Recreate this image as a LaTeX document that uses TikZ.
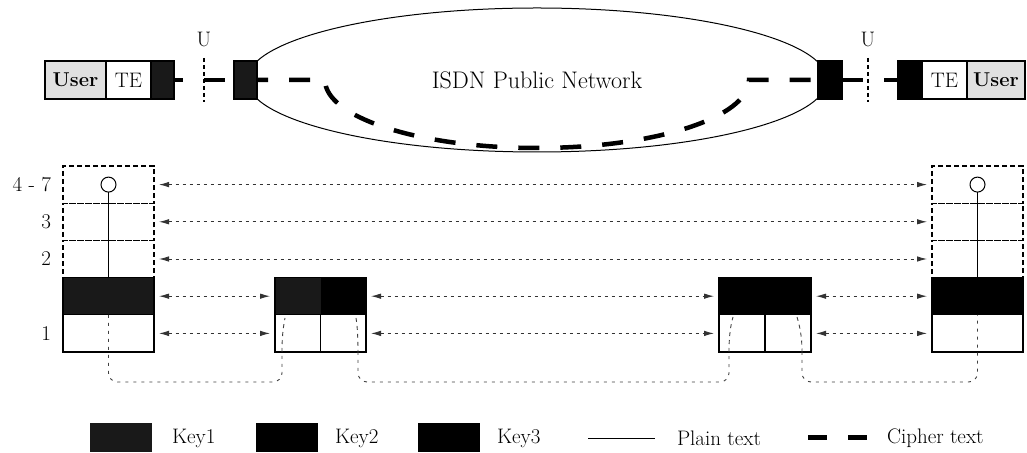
\documentclass[tikz,border=0pt]{standalone}
\usepackage{fontspec}
\usetikzlibrary{shapes.geometric,arrows.meta}
\begin{document}
\begin{tikzpicture}[x=1pt,y=1pt,
  every node/.style={inner sep=0pt, outer sep=0pt},
  txt/.style={font=\fontsize{21}{25}\selectfont},
  cell/.style={draw, line width=1.3pt, minimum height=37.2pt},
  topcell/.style={draw, line width=1.3pt, minimum height=38pt},
  dcell/.style={draw, line width=1.2pt, dash pattern=on 5pt off 3pt, minimum height=37.2pt},
  keyone/.style={fill=black!90},
  keytwo/.style={fill=black},
  keythree/.style={fill=black},
  userfill/.style={fill=black!12},
  arr/.style={{Latex[length=10pt,width=5.5pt]}-{Latex[length=10pt,width=5.5pt]}, dash pattern=on 3pt off 4pt, line width=0.9pt, draw=black!80, shorten <=5pt, shorten >=5pt},
  lowdash/.style={dash pattern=on 3pt off 5pt, line width=0.9pt, draw=black!75, rounded corners=9pt},
  celldash/.style={dash pattern=on 4pt off 4pt, line width=0.9pt, draw=black!75},
  cipher/.style={line width=4.5pt, dash pattern=on 21pt off 21pt},
  plain/.style={line width=0.9pt},
  uline/.style={line width=1.2pt, dash pattern=on 4pt off 3pt},
  ring/.style={circle, draw, line width=1pt, fill=white, minimum size=15pt}
]
\useasboundingbox (0,0) rectangle (1027,452);

% ---------- top row ----------
\node[draw, ellipse, line width=1pt, minimum width=580pt, minimum height=144pt,
      font=\fontsize{24}{28}\selectfont] (net) at (537,372) {ISDN Public Network};

\node[topcell, userfill, minimum width=61pt, font=\fontsize{20}{24}\selectfont\bfseries] (userL) at (75.5,372) {User};
\node[topcell, minimum width=45pt, txt] (teL) at (128.5,372) {TE};
\node[topcell, keyone, minimum width=23pt] (kL) at (162.5,372) {};
\node[topcell, keyone, minimum width=23pt] (nL) at (245.5,372) {};
\node[topcell, keythree, minimum width=24pt] (nR) at (830,372) {};
\node[topcell, keythree, minimum width=24pt] (kR) at (910,372) {};
\node[topcell, minimum width=45pt, txt] (teR) at (944.5,372) {TE};
\node[topcell, userfill, minimum width=58pt, font=\fontsize{20}{24}\selectfont\bfseries] (userR) at (996,372) {User};

\node[txt] (uL) at (204,412) {U};
\node[txt] (uR) at (868,412) {U};
\coordinate (uLt) at (204,394); \coordinate (uLb) at (204,350);
\coordinate (uRt) at (868,394); \coordinate (uRb) at (868,350);
\draw[uline] (uLt) -- (uLb);
\draw[uline] (uRt) -- (uRb);

\draw[cipher, dash phase=12pt] (kL.east) -- (nL.west);
\draw[cipher, dash phase=10pt] (nL.east) -- (325,372)
   arc[start angle=180, end angle=360, x radius=212, y radius=68] -- (nR.west);
\draw[cipher] (nR.east) -- (kR.west);

% ---------- layer stacks ----------
% left stack
\node[dcell, minimum width=91pt] (L47) at (108.5,267.4) {};
\node[dcell, minimum width=91pt] (L3)  at (108.5,230.2) {};
\node[dcell, minimum width=91pt] (L2)  at (108.5,193.0) {};
\node[cell, keyone, minimum width=91pt] (Lk) at (108.5,155.8) {};
\node[cell, minimum width=91pt] (L1) at (108.5,118.6) {};
\node[ring] (cL) at (108.5,267.4) {};
\draw[plain] (cL.south) -- (Lk.north);

% right stack
\node[dcell, minimum width=91pt] (R47) at (977.5,267.4) {};
\node[dcell, minimum width=91pt] (R3)  at (977.5,230.2) {};
\node[dcell, minimum width=91pt] (R2)  at (977.5,193.0) {};
\node[cell, keythree, minimum width=91pt] (Rk) at (977.5,155.8) {};
\node[cell, minimum width=91pt] (R1) at (977.5,118.6) {};
\node[ring] (cR) at (977.5,267.4) {};
\draw[plain] (cR.south) -- (Rk.north);

% middle-left box
\node[cell, keyone, draw=none, minimum width=45.5pt] (MLka) at (297.75,155.8) {};
\node[cell, keytwo, draw=none, minimum width=45.5pt] (MLkb) at (343.25,155.8) {};
\draw[line width=1.3pt] (MLka.south west) rectangle (MLkb.north east);
\node[cell, minimum width=45.5pt] (MLa) at (297.75,118.6) {};
\node[cell, minimum width=45.5pt] (MLb) at (343.25,118.6) {};

% middle-right box
\node[cell, keytwo, draw=none, minimum width=46pt] (MRka) at (742,155.8) {};
\node[cell, keythree, draw=none, minimum width=46pt] (MRkb) at (788,155.8) {};
\draw[line width=1.3pt] (MRka.south west) rectangle (MRkb.north east);
\node[cell, minimum width=46pt] (MRa) at (742,118.6) {};
\node[cell, minimum width=46pt] (MRb) at (788,118.6) {};

% layer labels
\node[txt, anchor=east] (t47) at (51,267.4) {4 - 7};
\node[txt, anchor=east] (t3) at (51,230.2) {3};
\node[txt, anchor=east] (t2) at (51,193.0) {2};
\node[txt, anchor=east] (t1) at (51,118.6) {1};

% peer arrows
\draw[arr] (L47.east) -- (R47.west);
\draw[arr] (L3.east) -- (R3.west);
\draw[arr] (L2.east) -- (R2.west);
\draw[arr] (Lk.east) -- (MLka.west);
\draw[arr] (MLkb.east) -- (MRka.west);
\draw[arr] (MRkb.east) -- (Rk.west);
\draw[arr] (L1.east) -- (MLa.west);
\draw[arr] (MLb.east) -- (MRa.west);
\draw[arr] (MRb.east) -- (R1.west);

% data path below
\coordinate (pa1) at (282,100); \coordinate (pa2) at (285,134);
\coordinate (pb1) at (356,134); \coordinate (pb2) at (358,100);
\coordinate (pc1) at (729,100); \coordinate (pc2) at (733,135);
\coordinate (pd1) at (797,135); \coordinate (pd2) at (802,100);
\draw[lowdash] (L1.north) -- (108.5,70) -- (282,70) -- (pa1);
\draw[celldash] (pa1) .. controls (282,120) and (284,128) .. (pa2);
\draw[celldash] (pb1) .. controls (357,128) and (358,118) .. (pb2);
\draw[lowdash] (pb2) -- (358,70) -- (729,70) -- (pc1);
\draw[celldash] (pc1) .. controls (729,118) and (731,128) .. (pc2);
\draw[celldash] (pd1) .. controls (799,128) and (802,118) .. (pd2);
\draw[lowdash] (pd2) -- (802,70) -- (977.5,70) -- (R1.north);

% ---------- legend ----------
\node[keyone, minimum width=62pt, minimum height=29pt] (s1) at (121,14.5) {};
\node[txt, anchor=west] (k1) at (172,14) {Key1};
\node[keytwo, minimum width=62pt, minimum height=29pt] (s2) at (287,14.5) {};
\node[txt, anchor=west] (k2) at (335,14) {Key2};
\node[keythree, minimum width=62pt, minimum height=29pt] (s3) at (449,14.5) {};
\node[txt, anchor=west] (k3) at (497,14) {Key3};
\coordinate (pl1) at (588,14); \coordinate (pl2) at (655,14);
\draw[plain] (pl1) -- (pl2);
\node[txt, anchor=west] (kp) at (677,14) {Plain text};
\coordinate (cl1) at (808,14); \coordinate (cl2) at (868,14);
\draw[line width=5pt, dash pattern=on 19pt off 21pt] (cl1) -- (cl2);
\node[txt, anchor=west] (kc) at (887,14) {Cipher text};
\end{tikzpicture}
\end{document}
